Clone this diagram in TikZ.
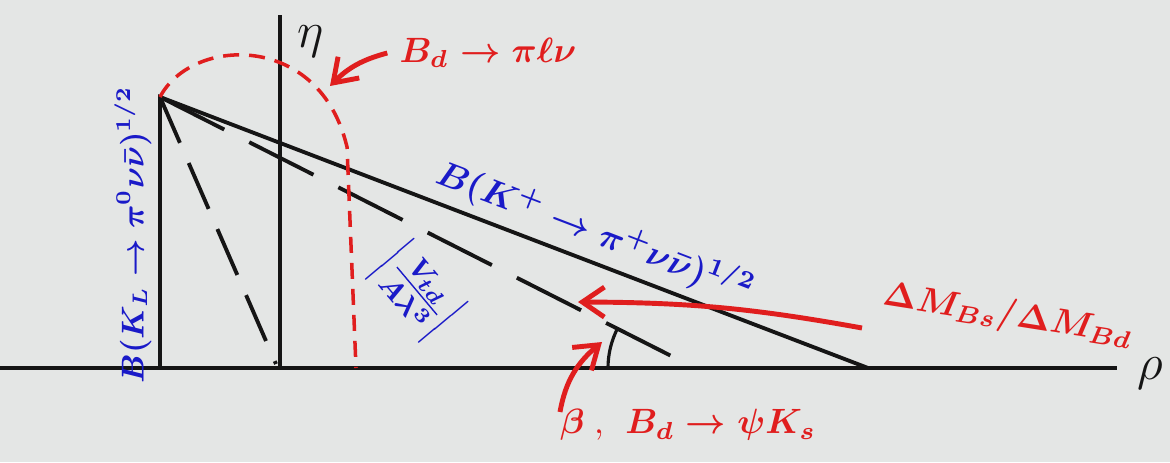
\documentclass[tikz,border=0pt]{standalone}
\usetikzlibrary{arrows.meta}
\definecolor{PaperGray}{HTML}{E4E6E5}
\definecolor{InkBlack}{HTML}{151515}
\definecolor{InkRed}{HTML}{E01E1E}
\definecolor{InkBlue}{HTML}{1A1AC8}
\tikzset{
    % Line styles
    axisline/.style={
        draw=InkBlack,
        line width=1.3pt
    },
    sideline/.style={
        draw=InkBlack,
        line width=1.1pt
    },
    dashside/.style={
        draw=InkBlack,
        line width=1.1pt,
        dash pattern=on 0.72cm off 0.28cm
    },
    dashsteep/.style={
        draw=InkBlack,
        line width=1.1pt,
        dash pattern=on 0.5cm off 0.22cm
    },
    reddash/.style={
        draw=InkRed,
        line width=1pt,
        dash pattern=on 0.16cm off 0.1cm
    },
    % Arrow styles
    redarrow/.style={
        -{Straight Barb[length=2.2mm, width=3mm]},
        line width=1.4pt,
        draw=InkRed
    },
    % Label styles
    axislabel/.style={
        font=\Large,
        text=InkBlack
    },
    redlabel/.style={
        font=\normalsize\boldmath,
        text=InkRed
    },
    bluelabel/.style={
        font=\normalsize\boldmath,
        text=InkBlue
    }
}
\begin{document}
\begin{tikzpicture}
    \fill[PaperGray] (0,0) rectangle (11.70,4.62);
    \useasboundingbox (0,0) rectangle (11.70,4.62);

    \coordinate (apex) at (1.60,3.65);
    \coordinate (foot) at (1.60,0.94);
    \coordinate (origin) at (2.80,0.94);
    \coordinate (etatop) at (2.80,4.47);
    \coordinate (rhostart) at (0,0.94);
    \coordinate (rhoend) at (11.17,0.94);
    \coordinate (kplus) at (8.68,0.94);
    \coordinate (vtd) at (6.95,0.94);
    \coordinate (steep) at (2.76,0.98);

    % axes
    \draw[axisline] (rhostart) -- (rhoend);
    \draw[axisline] (origin) -- (etatop);
    \node[axislabel] (rho) at (11.50,0.88) {$\rho$};
    \node[axislabel] (eta) at (3.11,4.20) {$\eta$};

    % triangle sides
    \draw[sideline] (foot) -- (apex) -- (kplus);
    \draw[dashside] (apex) -- (vtd);
    \draw[dashsteep] (apex) -- (steep);
    \draw[sideline, line width=0.9pt] ([xshift=-0.87cm]vtd) arc[start angle=180, end angle=153, radius=0.87cm];

    % V_ub circle
    \draw[reddash] (apex) .. controls (1.92,4.26) and (3.20,4.30) .. (3.47,3.15) -- (3.56,0.94);

    % red constraints
    \coordinate (pihead) at (3.30,3.76);
    \node[redlabel] (pilnu) at (4.88,4.09) {$B_d\to\pi\ell\nu$};
    \draw[redarrow] (pilnu.west) to[bend right=15] (pihead);

    \coordinate (dmtail) at (8.62,1.34);
    \coordinate (dmhead) at (5.78,1.60);
    \node[redlabel, rotate=-9] (dmratio) at (10.08,1.46) {$\Delta M_{Bs}/\Delta M_{Bd}$};
    \draw[redarrow] (dmtail) to[bend right=5] (dmhead);

    \coordinate (betatail) at (5.60,0.50);
    \coordinate (betahead) at (6.02,1.20);
    \node[redlabel] (psiks) at (6.88,0.37) {$\beta$\;,\; $B_d\to\psi K_s$};
    \draw[redarrow] (betatail) to[out=80, in=220] (betahead);

    % blue branching ratios
    \node[bluelabel, rotate=-21] (kplusbr) at (5.95,2.30) {$B(K^+\to\pi^+\nu\bar\nu)^{1/2}$};
    \node[bluelabel, font=\small\boldmath, rotate=90] (klongbr) at (1.33,2.27) {$B(K_L\to\pi^0\nu\bar\nu)^{1/2}$};
    \node[bluelabel, font=\large\boldmath, rotate=-50] (vtdratio) at (4.17,1.71) {$\left|\frac{V_{td}}{A\lambda^3}\right|$};
\end{tikzpicture}
\end{document}
